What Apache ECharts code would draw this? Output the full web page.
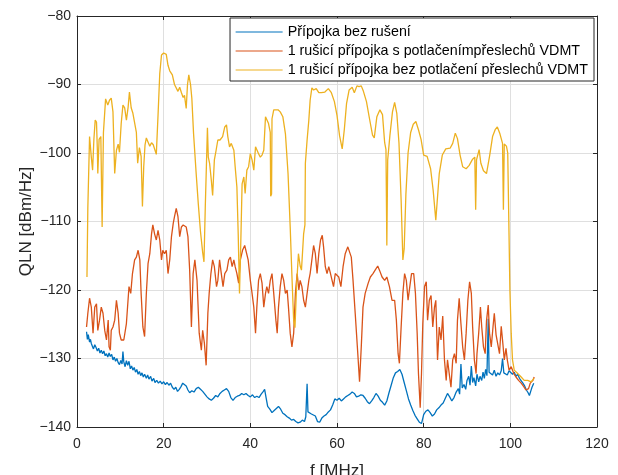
<!DOCTYPE html>
<html>
<head>
<meta charset="utf-8">
<script src="https://cdn.jsdelivr.net/npm/echarts@6/dist/echarts.min.js"></script>
<style>
html,body{margin:0;padding:0;background:#fff;}
#chart{width:618px;height:475px;}
</style>
</head>
<body>
<div id="chart"></div>
<script>
// Series names
const seriesNames = [
  'Přípojka bez rušení',
  '1 rušicí přípojka s potlačenímpřeslechů VDMT',
  '1 rušicí přípojka bez potlačení přeslechů VDMT'
];
// Axis ticks
const xTicks = [0, 20, 40, 60, 80, 100, 120];
const yTicks = [-140, -130, -120, -110, -100, -90, -80];

// Blue: no interference  (f [MHz], QLN [dBm/Hz])
const freqBlue = [2.2,2.4,2.6,2.9,3.1,3.3,3.6,3.8,4.1,4.4,4.7,5.0,5.3,5.6,5.9,6.2,6.5,6.8,7.1,7.4,7.7,8.0,8.3,8.6,8.9,9.2,9.5,9.8,10.1,10.4,10.6,10.8,11.1,11.4,11.7,12.0,12.3,12.6,12.9,13.2,13.5,13.8,14.1,14.4,14.7,15.0,15.3,15.6,16.0,16.3,16.6,17.0,17.3,17.7,18.0,18.4,18.8,19.2,19.6,20.0,20.4,20.8,21.2,21.6,22.0,22.4,22.8,23.2,23.6,24.0,24.4,24.8,25.2,25.6,26.0,26.5,27.0,27.5,28.0,28.5,29.0,29.5,30.0,30.5,31.0,31.5,32.0,32.5,33.0,33.5,34.0,34.5,35.0,35.5,36.0,36.5,37.0,37.5,38.0,38.5,39.0,39.5,40.0,40.5,41.0,41.5,42.0,42.5,43.0,43.3,43.6,44.0,44.5,45.0,45.5,46.0,46.5,47.0,47.5,48.0,48.5,49.0,49.5,50.0,50.5,51.0,51.5,52.0,52.5,52.8,53.1,53.3,53.7,54.1,54.5,55.0,55.5,56.0,56.5,57.0,57.5,58.0,58.5,59.0,59.5,60.0,60.5,61.0,61.5,62.0,62.5,63.0,63.5,64.0,64.5,65.0,65.5,66.0,66.5,67.0,67.5,68.0,68.5,69.0,69.5,70.0,70.5,71.0,71.5,72.0,72.5,73.0,73.5,74.0,74.5,75.0,75.5,76.0,76.5,77.0,77.5,78.0,78.5,79.0,79.5,80.0,80.5,81.0,81.5,82.0,82.5,83.0,83.5,84.0,84.5,85.0,85.5,86.0,86.5,87.0,87.5,88.0,88.3,88.6,88.9,89.3,89.7,90.0,90.4,90.7,91.0,91.3,91.6,92.0,92.3,92.7,93.0,93.4,93.7,94.0,94.3,94.6,94.9,95.1,95.5,95.9,96.3,96.7,97.1,97.5,97.9,98.2,98.5,98.9,99.3,99.7,100.1,100.5,100.9,101.3,101.7,102.1,102.5,102.9,103.3,103.7,104.1,104.4,104.7,105.0,105.4];
const qlnBlue = [-126.1,-127.2,-126.5,-127.6,-127.2,-127.8,-127.9,-128.6,-128.0,-128.4,-128.9,-128.5,-129.2,-128.8,-129.3,-128.9,-129.6,-129.3,-129.8,-129.2,-129.7,-129.4,-130.2,-129.8,-130.4,-130.0,-130.6,-130.9,-130.3,-130.8,-129.0,-130.5,-131.2,-130.3,-131.0,-130.4,-131.5,-131.1,-131.7,-131.3,-132.0,-131.6,-132.3,-131.9,-132.5,-132.1,-132.7,-132.3,-132.9,-132.4,-133.0,-132.6,-133.3,-132.9,-133.5,-133.2,-133.6,-133.3,-133.7,-133.4,-133.8,-133.5,-133.9,-133.6,-134.2,-134.5,-134.2,-134.8,-134.5,-134.1,-133.6,-133.4,-134.0,-134.6,-135.0,-134.7,-134.9,-134.4,-134.2,-134.5,-134.8,-135.2,-135.6,-135.9,-136.1,-135.8,-135.4,-135.6,-135.1,-134.8,-134.6,-134.4,-134.8,-135.7,-136.1,-135.7,-135.5,-135.4,-135.1,-135.3,-135.1,-135.4,-135.6,-135.3,-135.7,-135.5,-135.7,-135.2,-134.8,-134.5,-135.6,-137.0,-137.4,-137.9,-137.6,-137.3,-137.0,-137.4,-138.0,-138.2,-138.5,-138.7,-139.0,-138.9,-139.2,-139.4,-139.3,-139.0,-139.2,-138.5,-133.7,-137.8,-137.6,-138.1,-137.9,-138.4,-139.2,-139.3,-138.7,-138.4,-138.2,-137.8,-137.5,-136.8,-135.9,-136.1,-135.8,-136.2,-135.9,-135.6,-135.4,-135.2,-134.9,-135.1,-135.6,-135.5,-135.3,-135.4,-135.8,-136.3,-136.6,-136.2,-135.7,-135.1,-135.5,-136.1,-136.4,-136.8,-136.2,-135.0,-133.9,-132.8,-132.1,-131.9,-131.6,-132.3,-133.5,-134.7,-135.9,-136.8,-137.6,-138.3,-138.8,-139.3,-139.5,-138.2,-137.7,-137.5,-137.9,-138.4,-138.1,-137.5,-137.2,-136.8,-136.5,-135.8,-135.1,-135.6,-136.2,-135.7,-134.9,-134.4,-135.2,-130.8,-134.3,-133.8,-134.5,-133.2,-132.6,-133.9,-131.1,-133.5,-132.8,-134.0,-132.3,-133.4,-132.6,-133.2,-132.0,-132.9,-131.6,-132.5,-124.2,-132.0,-131.8,-132.4,-131.7,-132.6,-132.1,-132.4,-131.8,-130.0,-132.1,-131.9,-132.4,-131.8,-132.0,-132.3,-132.0,-132.6,-132.3,-132.9,-133.1,-133.6,-134.0,-134.6,-135.0,-135.4,-134.8,-134.2,-133.6];

// Red: 1 interfering line, with crosstalk cancellation
const freqRed = [2.2,2.5,2.9,3.3,3.7,4.1,4.5,4.8,5.2,5.6,6.0,6.4,6.8,7.2,7.4,7.7,7.9,8.3,8.7,9.1,9.5,9.8,10.2,10.8,11.4,12.0,12.4,12.8,13.3,13.7,14.1,14.5,14.8,15.2,15.6,16.0,16.4,16.8,17.2,17.5,17.9,18.3,18.7,19.1,19.5,19.8,20.2,20.6,21.0,21.4,21.8,22.2,22.5,22.9,23.3,23.7,24.1,24.5,24.8,25.2,25.6,26.0,26.4,26.8,27.2,27.7,28.2,28.7,29.0,29.4,29.8,30.2,30.5,30.9,31.3,31.7,32.2,32.5,32.9,33.3,33.7,34.1,34.6,35.0,35.4,35.8,36.2,36.5,36.9,37.3,37.7,38.2,38.7,39.1,39.5,40.0,40.4,40.8,41.2,41.5,41.9,42.3,42.7,43.1,43.5,43.8,44.2,44.6,45.0,45.4,45.9,46.2,46.5,46.9,47.3,47.7,48.1,48.5,48.8,49.2,49.6,50.0,50.4,50.8,51.2,51.5,51.9,52.3,52.7,53.1,53.5,53.8,54.2,54.6,55.0,55.4,55.8,56.2,56.6,56.9,57.3,57.7,58.1,58.5,58.8,59.2,59.6,60.0,60.4,60.9,61.4,61.9,62.5,62.9,63.3,63.7,64.2,64.8,65.2,65.6,66.0,66.5,67.2,67.7,68.3,68.8,69.4,69.8,70.4,71.0,71.5,72.1,72.7,73.3,73.7,74.1,74.4,74.8,75.2,75.6,76.0,76.4,76.8,77.2,77.7,78.1,78.5,78.8,79.2,79.5,79.8,80.2,80.6,80.9,81.3,81.7,82.1,82.5,82.8,83.2,83.6,84.0,84.4,84.8,85.2,85.5,85.9,86.3,86.7,87.1,87.5,87.8,88.2,88.6,89.0,89.4,89.8,90.2,90.6,91.0,91.3,91.7,92.1,92.3,92.7,93.1,93.4,93.8,94.2,94.5,94.9,95.2,95.6,96.0,96.3,96.7,97.1,97.5,97.9,98.3,98.6,99.0,99.3,99.7,100.2,100.8,101.3,101.9,102.5,103.1,103.6,104.2,104.6,105.2,105.5];
const qlnRed = [-125.4,-123.4,-121.2,-122.5,-126.3,-122.5,-122.0,-125.9,-124.4,-122.5,-123.4,-125.9,-127.3,-124.4,-128.3,-128.8,-125.9,-125.4,-124.4,-121.5,-123.4,-126.3,-127.3,-127.3,-124.9,-119.5,-120.5,-117.6,-115.6,-115.2,-114.2,-115.6,-120.5,-125.4,-126.8,-120.5,-116.1,-114.7,-111.8,-110.5,-111.8,-112.7,-111.3,-112.7,-115.6,-114.2,-114.7,-114.2,-117.6,-115.6,-112.2,-110.3,-109.3,-108.1,-109.3,-112.2,-110.8,-110.5,-110.5,-110.8,-112.2,-117.1,-125.4,-117.6,-115.6,-118.6,-126.3,-128.8,-125.9,-127.8,-131.0,-123.4,-120.5,-117.6,-115.6,-116.6,-119.5,-118.6,-115.6,-117.6,-119.5,-117.6,-117.1,-115.6,-115.2,-116.6,-115.6,-116.6,-117.6,-119.0,-115.6,-114.2,-113.5,-113.7,-115.6,-118.6,-120.5,-122.5,-126.3,-122.5,-118.6,-117.6,-119.0,-122.5,-120.5,-119.5,-120.5,-118.6,-117.6,-120.5,-124.4,-126.3,-122.5,-119.5,-117.6,-118.6,-120.5,-120.0,-122.5,-126.3,-128.3,-126.3,-120.5,-117.6,-120.0,-118.6,-119.5,-121.5,-122.5,-120.5,-118.6,-117.6,-115.6,-113.5,-114.7,-117.6,-114.7,-112.7,-112.0,-113.7,-116.6,-117.6,-116.6,-117.6,-117.6,-119.5,-117.6,-117.6,-118.1,-119.5,-116.6,-114.7,-113.7,-113.5,-115.2,-118.6,-123.4,-129.3,-133.4,-128.3,-122.5,-120.5,-119.0,-118.1,-117.6,-117.1,-116.5,-117.1,-118.1,-118.6,-118.1,-119.5,-121.5,-121.5,-124.4,-129.3,-130.7,-125.4,-120.5,-117.6,-118.6,-121.5,-119.5,-117.6,-117.6,-120.5,-126.3,-132.2,-137.2,-132.2,-124.9,-119.5,-118.8,-124.4,-121.5,-120.8,-125.4,-122.5,-121.5,-130.2,-125.4,-127.3,-123.8,-130.2,-133.2,-130.2,-132.2,-134.2,-130.2,-129.3,-130.7,-124.4,-121.2,-124.9,-128.3,-130.2,-126.3,-121.5,-118.8,-120.5,-125.4,-130.2,-132.2,-129.3,-126.3,-122.5,-125.4,-128.3,-129.3,-124.5,-122.2,-126.3,-128.3,-125.4,-123.4,-126.5,-126.3,-129.3,-125.3,-128.0,-130.2,-128.5,-130.2,-131.7,-131.2,-132.2,-132.7,-133.2,-133.6,-134.1,-134.6,-134.4,-133.6,-133.2,-132.7];

// Yellow: 1 interfering line, without crosstalk cancellation
const freqYellow = [2.3,2.5,2.9,3.3,3.6,3.9,4.2,4.5,4.7,4.8,5.1,5.5,5.8,6.1,6.6,7.1,7.5,7.9,8.3,8.7,9.1,9.5,9.8,10.2,10.6,11.0,11.4,11.8,12.1,12.5,12.9,13.3,13.7,14.0,14.4,14.8,15.1,15.4,15.7,16.0,16.4,16.8,17.2,17.6,18.0,18.3,18.7,19.1,19.5,20.0,20.6,21.0,21.4,22.0,22.5,22.9,23.3,23.7,24.1,24.5,24.8,25.2,25.5,25.8,26.2,26.5,26.9,27.5,28.0,28.5,29.0,29.3,29.6,29.9,30.1,30.3,30.6,31.0,31.3,31.7,32.1,32.5,33.0,33.6,34.1,34.5,34.8,35.2,35.6,36.2,36.5,36.9,37.2,37.5,37.8,38.1,38.5,38.8,39.2,39.6,40.0,40.4,40.8,41.2,41.5,41.9,42.3,42.7,43.1,43.5,43.8,44.2,44.6,44.7,44.9,45.0,45.4,45.8,46.4,46.9,47.5,48.1,48.7,49.2,49.6,50.0,50.3,50.7,51.1,51.5,51.8,52.3,52.6,52.7,53.1,53.5,53.8,54.2,54.6,55.2,55.8,56.4,57.2,58.0,58.7,59.4,60.0,60.6,61.2,61.7,62.2,62.8,63.5,64.0,64.6,65.1,65.6,66.1,66.8,67.5,68.2,68.6,69.2,69.9,70.5,71.0,71.3,71.5,71.7,72.2,72.8,73.3,73.8,74.3,74.8,75.2,75.5,75.9,76.4,77.0,77.6,78.2,78.8,79.4,80.0,80.8,81.6,82.2,82.8,83.2,83.6,84.3,85.1,86.1,86.7,87.3,87.8,88.4,89.0,89.8,90.5,91.3,91.8,92.0,92.2,92.8,93.2,93.8,94.5,95.2,95.9,96.5,97.0,97.6,98.2,98.4,98.6,99.1,99.4,99.7,99.9,100.2,100.5,100.9,101.7,102.5,103.2,104.0,104.8,105.5];
const qlnYellow = [-118.1,-108.0,-97.6,-100.6,-102.5,-98.0,-95.2,-95.5,-99.6,-103.0,-98.0,-97.6,-110.8,-97.0,-92.1,-93.0,-92.3,-92.0,-94.0,-103.0,-99.6,-98.7,-99.9,-95.7,-93.0,-93.4,-95.2,-93.3,-91.1,-93.4,-94.2,-94.0,-97.0,-101.5,-99.2,-100.5,-107.8,-102.0,-98.8,-97.8,-98.0,-99.0,-98.5,-98.8,-99.0,-100.2,-94.5,-88.4,-85.7,-85.4,-85.6,-87.2,-88.0,-88.6,-90.0,-89.8,-91.0,-90.4,-91.2,-91.9,-91.6,-93.5,-90.0,-88.6,-90.0,-92.0,-97.2,-103.0,-107.5,-111.5,-114.5,-115.9,-108.0,-101.0,-96.3,-100.6,-101.5,-104.0,-106.2,-101.0,-99.6,-98.1,-98.1,-97.6,-96.2,-95.9,-97.6,-99.1,-98.6,-99.6,-102.0,-105.0,-111.8,-120.5,-113.0,-104.5,-103.5,-105.9,-102.5,-102.0,-100.1,-101.0,-102.5,-99.1,-99.1,-100.1,-100.6,-100.3,-99.6,-94.7,-94.5,-95.7,-97.0,-106.3,-106.0,-95.0,-93.7,-93.5,-93.7,-94.0,-94.7,-97.2,-103.0,-110.8,-118.0,-124.5,-125.5,-119.0,-114.7,-116.5,-117.1,-111.8,-110.5,-101.5,-98.1,-95.2,-92.3,-90.5,-90.8,-90.6,-91.2,-91.2,-91.1,-90.6,-91.2,-92.5,-94.5,-97.5,-99.4,-96.5,-92.8,-90.8,-90.4,-91.2,-90.2,-90.3,-90.2,-91.0,-92.5,-95.0,-97.4,-97.8,-94.7,-93.7,-94.4,-98.5,-99.5,-113.5,-101.0,-97.5,-94.0,-92.6,-94.2,-98.5,-106.9,-115.6,-114.0,-106.0,-100.0,-97.0,-95.8,-95.4,-96.6,-98.0,-100.3,-100.5,-102.3,-105.5,-109.8,-106.4,-103.0,-100.3,-99.4,-99.3,-98.6,-97.1,-97.9,-100.3,-102.0,-102.3,-101.8,-100.9,-100.6,-108.3,-101.0,-99.5,-101.5,-102.6,-103.0,-100.5,-97.6,-96.6,-96.2,-97.2,-98.6,-108.3,-98.7,-99.0,-100.0,-112.0,-120.0,-126.3,-130.2,-131.7,-132.2,-132.7,-133.2,-133.2,-133.4,-132.9];

const zip = (xs, ys) => xs.map((x, i) => [x, ys[i]]);
const FONT = '"Liberation Sans", Arial, Helvetica, sans-serif';
const AX = '#262626';
const minusFmt = v => String(v).replace('-', '\u2212');

const chart = echarts.init(document.getElementById('chart'), null, {renderer: 'canvas'});
chart.setOption({
  animation: false,
  backgroundColor: '#ffffff',
  textStyle: {fontFamily: FONT},
  grid: {left: 77, right: 21, top: 16, bottom: 48, containLabel: false, outerBoundsMode: 'none'},
  legend: {
    data: seriesNames,
    orient: 'vertical',
    right: 24,
    top: 18,
    itemWidth: 47,
    itemHeight: 14,
    itemGap: 5,
    padding: [7, 6, 4, 5],
    backgroundColor: '#ffffff',
    borderColor: AX,
    borderWidth: 1,
    itemStyle: {opacity: 0, borderWidth: 0},
    lineStyle: {width: 1.2},
    textStyle: {fontFamily: FONT, fontSize: 14.3, color: '#000'}
  },
  xAxis: [
    {
      type: 'value', min: xTicks[0], max: xTicks[xTicks.length - 1], interval: 20,
      name: 'f [MHz]', nameLocation: 'middle', nameGap: 36, nameMoveOverlap: false,
      nameTextStyle: {fontFamily: FONT, fontSize: 17, color: AX},
      axisLine: {show: true, lineStyle: {color: AX, width: 1}},
      axisTick: {show: true, inside: true, length: 4, lineStyle: {color: AX}},
      axisLabel: {fontFamily: FONT, fontSize: 14, color: AX, margin: 10},
      splitLine: {show: true, lineStyle: {color: '#dfdfdf', width: 1}}
    },
    {
      type: 'value', position: 'top', min: xTicks[0], max: xTicks[xTicks.length - 1], interval: 20,
      axisLine: {show: true, onZero: false, lineStyle: {color: AX, width: 1}},
      axisTick: {show: true, inside: true, length: 4, lineStyle: {color: AX}},
      axisLabel: {show: false},
      splitLine: {show: false}
    }
  ],
  yAxis: [
    {
      type: 'value', min: yTicks[0], max: yTicks[yTicks.length - 1], interval: 10,
      name: 'QLN [dBm/Hz]', nameLocation: 'middle', nameGap: 42, nameMoveOverlap: false,
      nameTextStyle: {fontFamily: FONT, fontSize: 17, color: AX},
      axisLine: {show: true, onZero: false, lineStyle: {color: AX, width: 1}},
      axisTick: {show: true, inside: true, length: 4, lineStyle: {color: AX}},
      axisLabel: {fontFamily: FONT, fontSize: 14, color: AX, margin: 6, formatter: minusFmt},
      splitLine: {show: true, lineStyle: {color: '#dfdfdf', width: 1}}
    },
    {
      type: 'value', position: 'right', min: yTicks[0], max: yTicks[yTicks.length - 1], interval: 10,
      axisLine: {show: true, onZero: false, lineStyle: {color: AX, width: 1}},
      axisTick: {show: true, inside: true, length: 4, lineStyle: {color: AX}},
      axisLabel: {show: false},
      splitLine: {show: false}
    }
  ],
  series: [
    {name: seriesNames[0], type: 'line', data: zip(freqBlue, qlnBlue), symbol: 'none',
     lineStyle: {color: '#0072BD', width: 1.3}, itemStyle: {color: '#0072BD'}},
    {name: seriesNames[1], type: 'line', data: zip(freqRed, qlnRed), symbol: 'none',
     lineStyle: {color: '#D95319', width: 1.3}, itemStyle: {color: '#D95319'}},
    {name: seriesNames[2], type: 'line', data: zip(freqYellow, qlnYellow), symbol: 'none',
     lineStyle: {color: '#EDB120', width: 1.3}, itemStyle: {color: '#EDB120'}}
  ]
});
</script>
</body>
</html>
